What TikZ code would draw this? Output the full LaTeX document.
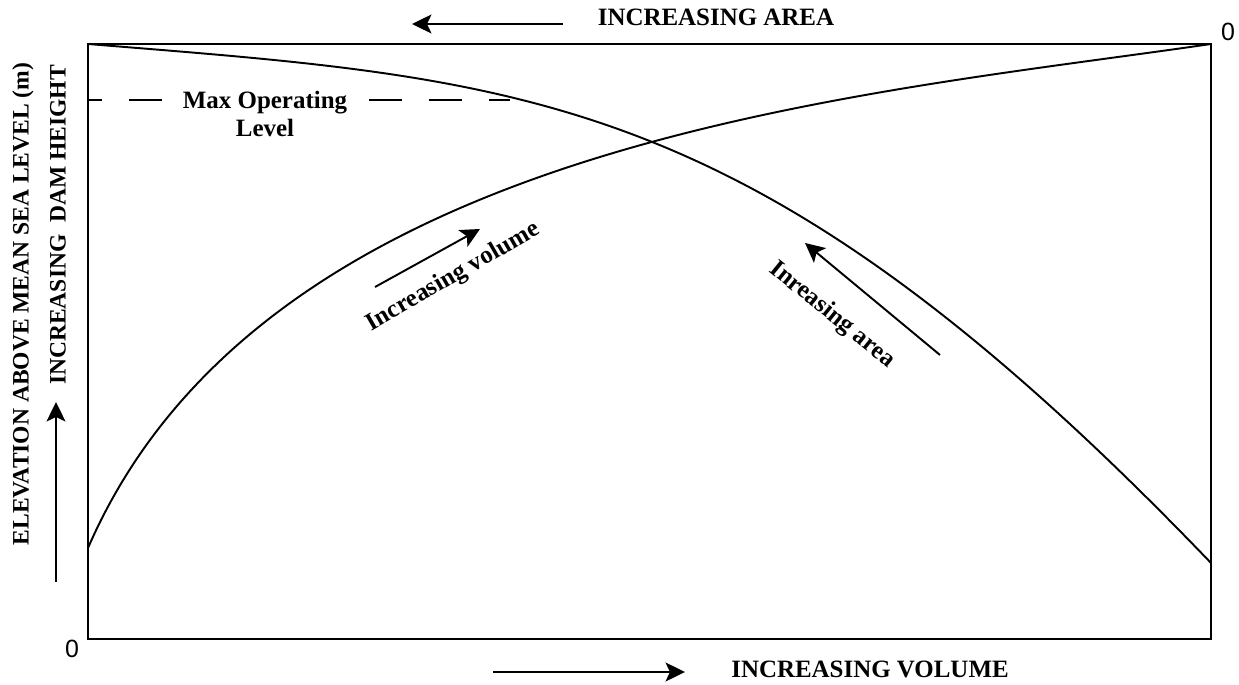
\documentclass[tikz,border=0pt]{standalone}
\usepackage{fontspec}
\setmainfont{Liberation Serif}
\newfontfamily\zerofont{Liberation Sans}
\usetikzlibrary{arrows.meta}

\begin{document}
\begin{tikzpicture}[
x=0.02cm, y=-0.02cm,
capsnode/.style={font=\bfseries\fontsize{14.2}{15}\selectfont, inner sep=1pt},
sidenode/.style={font=\bfseries\fontsize{13.4}{15}\selectfont, inner sep=1pt, rotate=90},
curvenode/.style={font=\bfseries\fontsize{14.2}{15}\selectfont, inner sep=1pt},
levelnode/.style={font=\bfseries\fontsize{14.2}{15.5}\selectfont, align=center, fill=white, inner sep=3pt},
zeronode/.style={font=\zerofont\fontsize{14.2}{15}\selectfont, inner sep=1pt},
frameline/.style={line width=1.3pt},
curveline/.style={line width=1.1pt},
levelline/.style={line width=1pt, dash pattern=on 0.66cm off 0.54cm, dash phase=0.38cm},
arrowline/.style={line width=1.1pt, -{Stealth[length=3.9mm, width=3.8mm, inset=0.9mm]}},
]
\useasboundingbox (0,0) rectangle (1239,685);

%Points
\coordinate (origin)      at (88,639);
\coordinate (topright)    at (1211,44);
\coordinate (vol_start)   at (88,548);
\coordinate (area_start)  at (88,44);
\coordinate (area_end)    at (1211,563);
\coordinate (level_start) at (88,100);
\coordinate (level_end)   at (510,100);

\coordinate (top_arrow_start)  at (563,24);
\coordinate (top_arrow_end)    at (412,24);
\coordinate (bot_arrow_start)  at (493,672);
\coordinate (bot_arrow_end)    at (685,672);
\coordinate (side_arrow_start) at (56,582);
\coordinate (side_arrow_end)   at (56,402);
\coordinate (vol_arrow_start)  at (375,287);
\coordinate (vol_arrow_end)    at (480,229);
\coordinate (area_arrow_start) at (940,355);
\coordinate (area_arrow_end)   at (805,243);

%Lines
\draw[frameline] (origin) rectangle (topright);
\draw[curveline] (vol_start) .. controls (265,140) and (855,96) .. (topright);
\draw[curveline] (area_start) .. controls (530,80) and (755,88) .. (area_end);
\draw[levelline] (level_start) -- (level_end);

%Nodes
\node[levelnode]  at (265,114)  (level_label)  [] {Max Operating\\Level};
\node[capsnode]   at (716,17)   (area_label)   [] {INCREASING AREA};
\node[capsnode]   at (870,669)  (volume_label) [] {INCREASING VOLUME};
\node[sidenode]   at (23,304)   (elev_label)   [] {ELEVATION ABOVE MEAN SEA LEVEL (m)};
\node[sidenode]   at (58,225)   (dam_label)    [] {INCREASING\ \ DAM HEIGHT};
\node[curvenode, rotate=30]  at (453,277) (vol_curve_label)  [] {Increasing volume};
\node[curvenode, rotate=-39] at (832,315) (area_curve_label) [] {Inreasing area};
\node[zeronode]   at (1228,32)  (zero_top)     [] {0};
\node[zeronode]   at (72,649)   (zero_bottom)  [] {0};

%Arrows
\draw[arrowline] (top_arrow_start) -- (top_arrow_end);
\draw[arrowline] (bot_arrow_start) -- (bot_arrow_end);
\draw[arrowline] (side_arrow_start) -- (side_arrow_end);
\draw[arrowline] (vol_arrow_start) -- (vol_arrow_end);
\draw[arrowline] (area_arrow_start) -- (area_arrow_end);

\end{tikzpicture}
\end{document}
